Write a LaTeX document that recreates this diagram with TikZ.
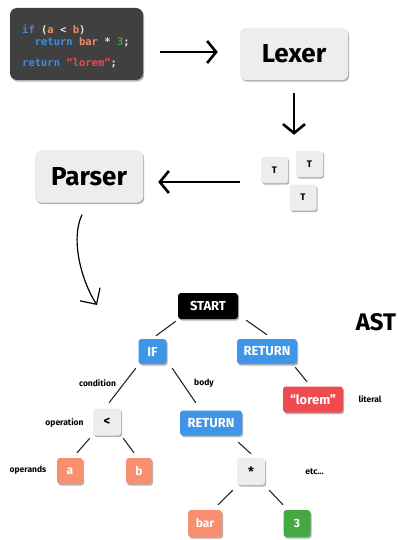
\documentclass[tikz,border=0pt]{standalone}
\usepackage{fontspec}
\setmainfont{Fira Sans}
\newfontfamily\codefont{DejaVu Sans Mono}
\usetikzlibrary{arrows.meta,shadows,calc}
\definecolor{codebg}{HTML}{404040}
\definecolor{boxgray}{HTML}{EDEDED}
\definecolor{astblue}{HTML}{3F96E8}
\definecolor{astred}{HTML}{EF4A4F}
\definecolor{astsalmon}{HTML}{FA8F6F}
\definecolor{astgreen}{HTML}{45A843}
\definecolor{cblue}{HTML}{3C8EE2}
\definecolor{corange}{HTML}{F5896A}
\definecolor{cgreen}{HTML}{3FA63F}
\definecolor{cred}{HTML}{EF4A4A}
\definecolor{cwhite}{HTML}{E6E6E6}
\tikzset{
  shad/.style={drop shadow={shadow xshift=1.2pt,shadow yshift=-1.6pt,fill=black!50,opacity=0.6}},
  bigbox/.style={shad,fill=boxgray,rounded corners=6pt,minimum width=108pt,minimum height=52pt,inner sep=0pt,font=\fontsize{26}{28}\selectfont\bfseries},
  tok/.style={shad,fill=boxgray,rounded corners=2.5pt,minimum width=27pt,minimum height=26pt,inner sep=0pt,font=\fontsize{9.5}{10}\selectfont\bfseries},
  ast/.style={shad,rounded corners=3pt,inner sep=0pt,minimum height=25pt,text=white,font=\fontsize{13}{14}\selectfont\bfseries},
  op/.style={shad,rounded corners=3pt,inner sep=0pt,minimum width=28pt,minimum height=27pt,fill=boxgray,font=\fontsize{13}{14}\selectfont\bfseries},
  lbl/.style={inner sep=0pt,font=\fontsize{8.5}{9}\selectfont\bfseries},
  edge/.style={line width=1.1pt,draw=black!85},
  bigarrow/.style={line width=2.6pt,-{Straight Barb[length=9pt,width=22pt,line width=2.6pt]}},
  thinarrow/.style={line width=1.2pt,-{Straight Barb[length=12pt,width=24pt,line width=1.2pt]}},
  code/.style={anchor=base west,inner sep=0pt,font=\codefont\fontsize{10.5}{12}\selectfont\bfseries}
}
\begin{document}
\begin{tikzpicture}[x=1pt,y=-1pt]
\useasboundingbox (0,0) rectangle (398,540);
% code box
\node[shad,fill=codebg,rounded corners=7pt,minimum width=133pt,minimum height=72pt,inner sep=0pt] (code) at (76.5,44) {};
\node[code] (l1) at (22,34) {\textcolor{cblue}{if}\ \textcolor{cwhite}{(}\textcolor{corange}{a}\ \textcolor{cwhite}{<}\ \textcolor{corange}{b}\textcolor{cwhite}{)}};
\node[code] (l2) at (22,46) {\phantom{xx}\textcolor{cblue}{return}\ \textcolor{corange}{bar}\ \textcolor{cwhite}{*}\ \textcolor{cgreen}{3}\textcolor{cwhite}{;}};
\node[code] (l3) at (22,67) {\textcolor{cblue}{return}\ \textcolor{cred}{“lorem”}\textcolor{cwhite}{;}};
% lexer / parser
\node[bigbox] (lexer) at (294,54) {Lexer};
\node[bigbox] (parser) at (89,176.5) {Parser};
% tokens
\node[tok] (t1) at (274.5,170) {T};
\node[tok] (t2) at (309.5,164) {T};
\node[tok] (t3) at (303,197.5) {T};
% arrows
\draw[bigarrow,shorten <=17pt,shorten >=22pt] (code.east |- 0,52) -- (lexer.west |- 0,52);
\draw[bigarrow,shorten <=13pt,shorten >=16pt] (lexer.south) -- (t2.north -| lexer.south);
\coordinate (la) at (240,182);
\draw[bigarrow,shorten >=15pt] (la) -- (la -| parser.east);
\coordinate (astin) at (97,305);
\draw[thinarrow] ($(parser.south)+(-7,12)$) .. controls (70,240) and (82,282) .. (astin);
% AST
\node[inner sep=0pt,font=\fontsize{24}{26}\selectfont\bfseries] (astlbl) at (376,322) {AST};
\node[ast,fill=black,minimum width=60pt,minimum height=26pt] (start) at (208,306) {START};
\node[ast,fill=astblue,minimum width=28pt] (if) at (152.5,351.5) {IF};
\node[ast,fill=astblue,minimum width=60pt] (ret) at (267,351.5) {RETURN};
\node[ast,fill=astred,minimum width=60pt,minimum height=26pt] (lorem) at (313,399.5) {“lorem”};
\node[op] (lt) at (107,422) {<};
\node[ast,fill=astsalmon,minimum width=26pt,minimum height=26pt,font=\fontsize{12}{13}\selectfont\bfseries] (a) at (70,471) {a};
\node[ast,fill=astsalmon,minimum width=26pt,minimum height=26pt,font=\fontsize{12}{13}\selectfont\bfseries] (b) at (139,471) {b};
\node[ast,fill=astblue,minimum width=62pt] (ret2) at (211,423) {RETURN};
\node[op] (mul) at (251,471.5) {*};
\node[ast,fill=astsalmon,minimum width=34pt,minimum height=27pt,font=\fontsize{12}{13}\selectfont\bfseries] (bar) at (205,523.5) {bar};
\node[ast,fill=astgreen,minimum width=27pt,minimum height=27pt,font=\fontsize{12}{13}\selectfont\bfseries] (three) at (297,523.5) {3};
% labels
\node[lbl] (lcond) at (97.5,383) {condition};
\node[lbl] (lbody) at (204,383) {body};
\node[lbl] (llit) at (370,399) {literal};
\node[lbl] (lop) at (64.5,423) {operation};
\node[lbl] (lopd) at (28,470) {operands};
\node[lbl] (letc) at (314.5,472) {etc...};
% edges
\draw[edge] ($(start.south west)+(-2,2)$) -- ($(if.north)+(3.5,-3)$);
\draw[edge] ($(start.south east)+(8,1)$) -- ($(ret.north)+(0,-4)$);
\draw[edge] ($(ret.south east)+(-2,3)$) -- ($(lorem.north)+(-6,-4.5)$);
\draw[edge] ($(if.south west)+(-2.5,4)$) -- ($(lt.north)+(2,-5.5)$);
\draw[edge] ($(if.south east)+(5.5,4)$) -- ($(ret2.north west)+(16,-7.5)$);
\draw[edge] ($(lt.south west)+(-3,2.5)$) -- ($(a.north)+(7,-5)$);
\draw[edge] ($(lt.south east)+(2,2.5)$) -- ($(b.north)+(-5,-5)$);
\draw[edge] ($(ret2.south east)+(-4,6.5)$) -- ($(mul.north)+(0,-4)$);
\draw[edge] ($(mul.south west)+(-4,5)$) -- ($(bar.north)+(13,-5)$);
\draw[edge] ($(mul.south east)+(4,5)$) -- ($(three.north)+(-14,-5)$);
\end{tikzpicture}
\end{document}
